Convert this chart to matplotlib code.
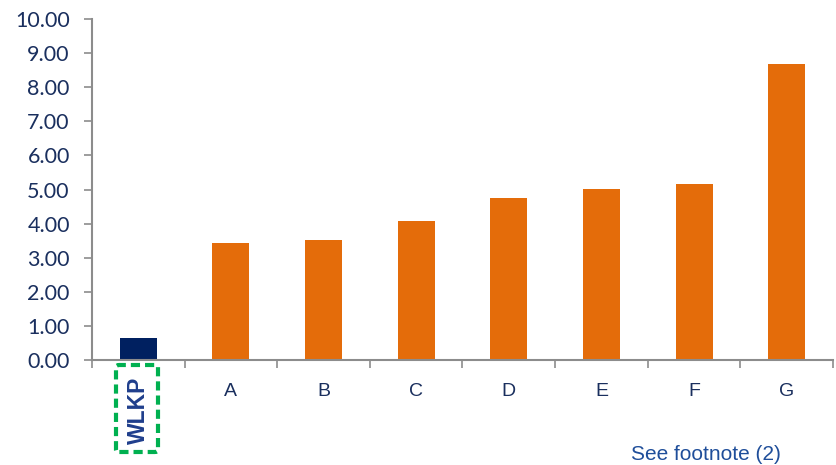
import numpy as np
import matplotlib.pyplot as plt
from matplotlib.patches import FancyBboxPatch

categorias = ["WLKP", "A", "B", "C", "D", "E", "F", "G"]
valores = [0.64, 3.43, 3.52, 4.07, 4.75, 5.01, 5.16, 8.68]
cores = ["#002060"] + ["#E46C0A"] * 7
yticks = np.arange(0, 10.01, 1.0)

fig = plt.figure(figsize=(8.37, 4.65), dpi=100)
ax = fig.add_axes([92 / 837, 1 - 360 / 465, (833 - 92) / 837, (360 - 19) / 465])

x = np.arange(len(categorias))
ax.bar(x, valores, width=0.4, color=cores, zorder=2)

ax.set_xlim(-0.5, len(categorias) - 0.5)
ax.set_ylim(0, 10)

for lado in ["top", "right"]:
    ax.spines[lado].set_visible(False)
for lado in ["left", "bottom"]:
    ax.spines[lado].set_color("#8c8c8c")
    ax.spines[lado].set_linewidth(1.5)

ax.set_yticks(yticks)
ax.set_yticklabels([f"{v:.2f}" for v in yticks], fontfamily="Lato", fontsize=15.5, color="#1A2F5E")
ax.tick_params(axis="y", length=6, width=1.2, color="#8c8c8c", pad=10)

# ticks do eixo x entre as categorias
ax.set_xticks(np.arange(-0.5, len(categorias), 1.0))
ax.set_xticklabels([])
ax.tick_params(axis="x", length=6, width=1.2, color="#8c8c8c")

for i, cat in enumerate(categorias[1:], start=1):
    ax.text(i, -0.93, cat, ha="center", va="center", fontsize=14,
            fontfamily="Liberation Sans", color="#1A2F5E", transform=ax.transData)

# rótulo WLKP girado com caixa tracejada verde
ax.text(0, -1.48, "WLKP", ha="center", va="center", rotation=90, fontsize=16.5,
        fontweight="bold", fontfamily="Liberation Sans", color="#1F3E8C", clip_on=False)
caixa = FancyBboxPatch((116 / 837, 1 - 452 / 465), 42 / 837, 87 / 465,
                       boxstyle="round,pad=0,rounding_size=0.004", transform=fig.transFigure,
                       fill=False, edgecolor="#00B050", linewidth=3, linestyle=(0, (2.2, 1.2)))
fig.patches.append(caixa)

fig.text(706 / 837, 1 - 454 / 465, "See footnote (2)", ha="center", va="center", fontsize=15,
         fontfamily="Liberation Sans", color="#1F4E9A")

plt.savefig("out.png", dpi=100)
